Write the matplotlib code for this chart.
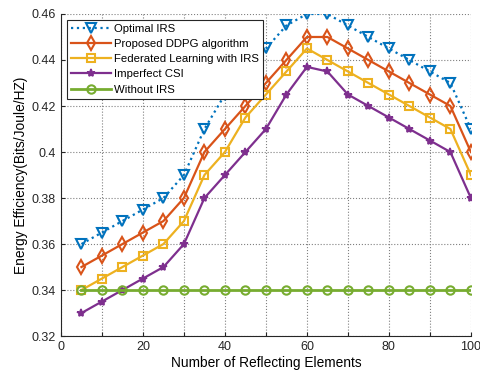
import matplotlib
matplotlib.use('Agg')
import matplotlib.pyplot as plt
import numpy as np

plt.rcParams['font.family'] = ['Liberation Sans', 'DejaVu Sans']

# number of reflecting elements
elements = [5, 10, 15, 20, 25, 30, 35, 40, 45, 50, 55, 60, 65, 70, 75, 80, 85, 90, 95, 100]

# energy efficiency values
optimal_irs = [0.36, 0.365, 0.37, 0.375, 0.38, 0.39, 0.41, 0.425, 0.435, 0.445,
               0.455, 0.46, 0.46, 0.455, 0.45, 0.445, 0.44, 0.435, 0.43, 0.41]
ddpg = [0.35, 0.355, 0.36, 0.365, 0.37, 0.38, 0.40, 0.41, 0.42, 0.43,
        0.44, 0.45, 0.45, 0.445, 0.44, 0.435, 0.43, 0.425, 0.42, 0.40]
federated = [0.34, 0.345, 0.35, 0.355, 0.36, 0.37, 0.39, 0.40, 0.415, 0.425,
             0.435, 0.445, 0.44, 0.435, 0.43, 0.425, 0.42, 0.415, 0.41, 0.39]
imperfect_csi = [0.33, 0.335, 0.34, 0.345, 0.35, 0.36, 0.38, 0.39, 0.40, 0.41,
                 0.425, 0.437, 0.435, 0.425, 0.42, 0.415, 0.41, 0.405, 0.40, 0.38]
without_irs = [0.34] * 20

labels = ['Optimal IRS', 'Proposed DDPG algorithm', 'Federated Learning with IRS',
          'Imperfect CSI', 'Without IRS']

fig = plt.figure(figsize=(4.8, 3.78), dpi=100)
ax = fig.add_axes([0.127, 0.111, 0.854, 0.852])

lw = 1.6
ms = 6
ax.plot(elements, optimal_irs, ':', color='#0072BD', marker='v', mfc='none',
        ms=ms + 1, mew=1.5, lw=lw, label=labels[0])
ax.plot(elements, ddpg, '-', color='#D95319', marker='d', mfc='none',
        ms=ms + 1, mew=1.5, lw=lw, label=labels[1])
ax.plot(elements, federated, '-', color='#EDB120', marker='s', mfc='none',
        ms=ms, mew=1.5, lw=lw, label=labels[2])
ax.plot(elements, imperfect_csi, '-', color='#7E2F8E', marker='*',
        ms=ms, mew=1.2, lw=lw, label=labels[3])
ax.plot(elements, without_irs, '-', color='#77AC30', marker='o', mfc='none',
        ms=ms, mew=1.5, lw=lw + 0.4, label=labels[4])

ax.set_xlim(0, 100)
ax.set_ylim(0.32, 0.46)

# ticks every 10 but labels only every 20, like matlab does it
xt = np.arange(0, 101, 10)
ax.set_xticks(xt)
ax.set_xticklabels([str(v) if v % 20 == 0 else '' for v in xt])
yt = [0.32, 0.34, 0.36, 0.38, 0.40, 0.42, 0.44, 0.46]
ax.set_yticks(yt)
ax.set_yticklabels(['0.32', '0.34', '0.36', '0.38', '0.4', '0.42', '0.44', '0.46'])
ax.tick_params(direction='in', length=3, labelsize=9, colors='#262626')

ax.grid(True, linestyle=':', color='#808080', linewidth=0.8)
ax.spines['top'].set_visible(False)
ax.spines['right'].set_visible(False)
ax.spines['left'].set_color('#262626')
ax.spines['bottom'].set_color('#262626')

ax.set_xlabel('Number of Reflecting Elements', fontsize=9.9, labelpad=2)
ax.set_ylabel('Energy Efficiency(Bits/Joule/HZ)', fontsize=9.9, labelpad=3)

leg = ax.legend(loc='upper left', bbox_to_anchor=(0.015, 0.981), fontsize=8.2,
                handlelength=3.5, handletextpad=0.3, labelspacing=0.45,
                borderpad=0.35, borderaxespad=0.0, fancybox=False, framealpha=1)
leg.get_frame().set_edgecolor('#262626')
leg.get_frame().set_linewidth(0.8)

fig.savefig('out.png', dpi=100)
